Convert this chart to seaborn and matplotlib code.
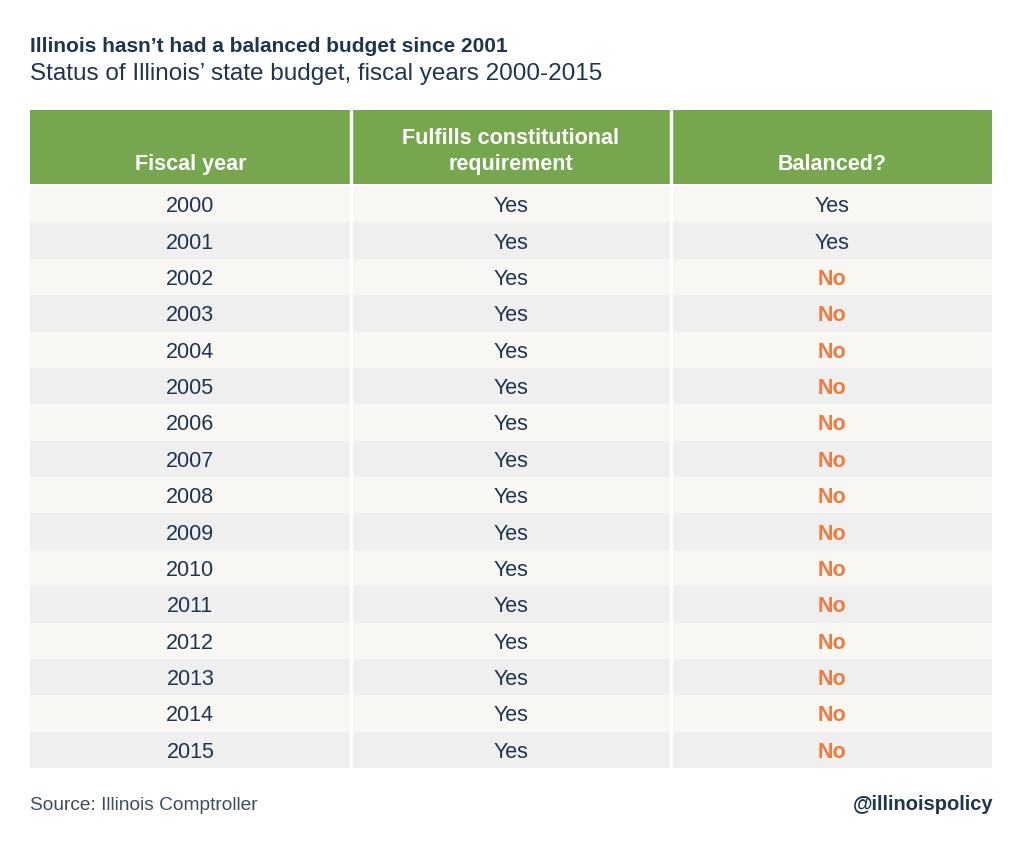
import numpy as np
import pandas as pd
import matplotlib
matplotlib.use("Agg")
import matplotlib.pyplot as plt
from matplotlib.colors import ListedColormap
import seaborn as sns

# -------------------------------------------------------------------
# Données
# -------------------------------------------------------------------

years = [str(y) for y in range(2000, 2016)]
constitutional = ["Yes"] * 16
balanced = ["Yes", "Yes"] + ["No"] * 14
headers = ["Fiscal year", "Fulfills constitutional\nrequirement", "Balanced?"]

title = "Illinois hasn\u2019t had a balanced budget since 2001"
subtitle = "Status of Illinois\u2019 state budget, fiscal years 2000-2015"
source = "Source: Illinois Comptroller"
handle = "@illinoispolicy"

NAVY = "#1d3550"
GREEN = "#76a74e"
ORANGE = "#f07b3f"
ROW_A = "#f8f7f3"
ROW_B = "#efefef"

sns.set_theme(style="white")
plt.rcParams["font.family"] = ["Liberation Sans", "DejaVu Sans"]

W, H = 1024, 843
fig = plt.figure(figsize=(W / 100, H / 100), dpi=100)


def frac(x0, y0, x1, y1):
    return [x0 / W, 1 - y1 / H, (x1 - x0) / W, (y1 - y0) / H]


# -------------------------------------------------------------------
# En-tête du tableau
# -------------------------------------------------------------------

ax_h = fig.add_axes(frac(30, 110, 992, 184))
sns.heatmap(
    np.zeros((1, 3)), ax=ax_h, cmap=ListedColormap([GREEN]), cbar=False,
    xticklabels=False, yticklabels=False,
)
for j, lab in enumerate(headers):
    ax_h.text(j + 0.5, 0.875, lab, ha="center", va="bottom", color="white",
              fontsize=15.5, fontweight="bold", linespacing=1.3)
for x in (1, 2):
    ax_h.axvline(x, color="white", lw=2.4)

# -------------------------------------------------------------------
# Corps du tableau
# -------------------------------------------------------------------

df = pd.DataFrame({"year": years, "const": constitutional, "bal": balanced})
shade = np.array([[i % 2] * 3 for i in range(len(df))])
labels = df[["year", "const", "bal"]].to_numpy()

ax_b = fig.add_axes(frac(30, 186, 992, 768))
sns.heatmap(
    shade, ax=ax_b, cmap=ListedColormap([ROW_A, ROW_B]), cbar=False,
    annot=labels, fmt="", xticklabels=False, yticklabels=False,
    annot_kws={"fontsize": 15.5, "color": NAVY},
)
for t in ax_b.texts:
    t.set_va("center_baseline")
    if t.get_text() == "No":
        t.set_color(ORANGE)
        t.set_fontweight("bold")
for x in (1, 2):
    ax_b.axvline(x, color="white", lw=2.4)

# -------------------------------------------------------------------
# Titres et notes
# -------------------------------------------------------------------

fig.text(30 / W, 1 - 46 / H, title, fontsize=15, fontweight="bold",
         color=NAVY, va="center")
fig.text(30 / W, 1 - 74 / H, subtitle, fontsize=17.5, color=NAVY,
         va="center")
fig.text(30 / W, 1 - 805 / H, source, fontsize=13.8, color="#3b4d63",
         va="center")
fig.text(993 / W, 1 - 805 / H, handle, fontsize=14.5, fontweight="bold",
         color=NAVY, va="center", ha="right")

fig.savefig("out.png", dpi=100, facecolor="white")
